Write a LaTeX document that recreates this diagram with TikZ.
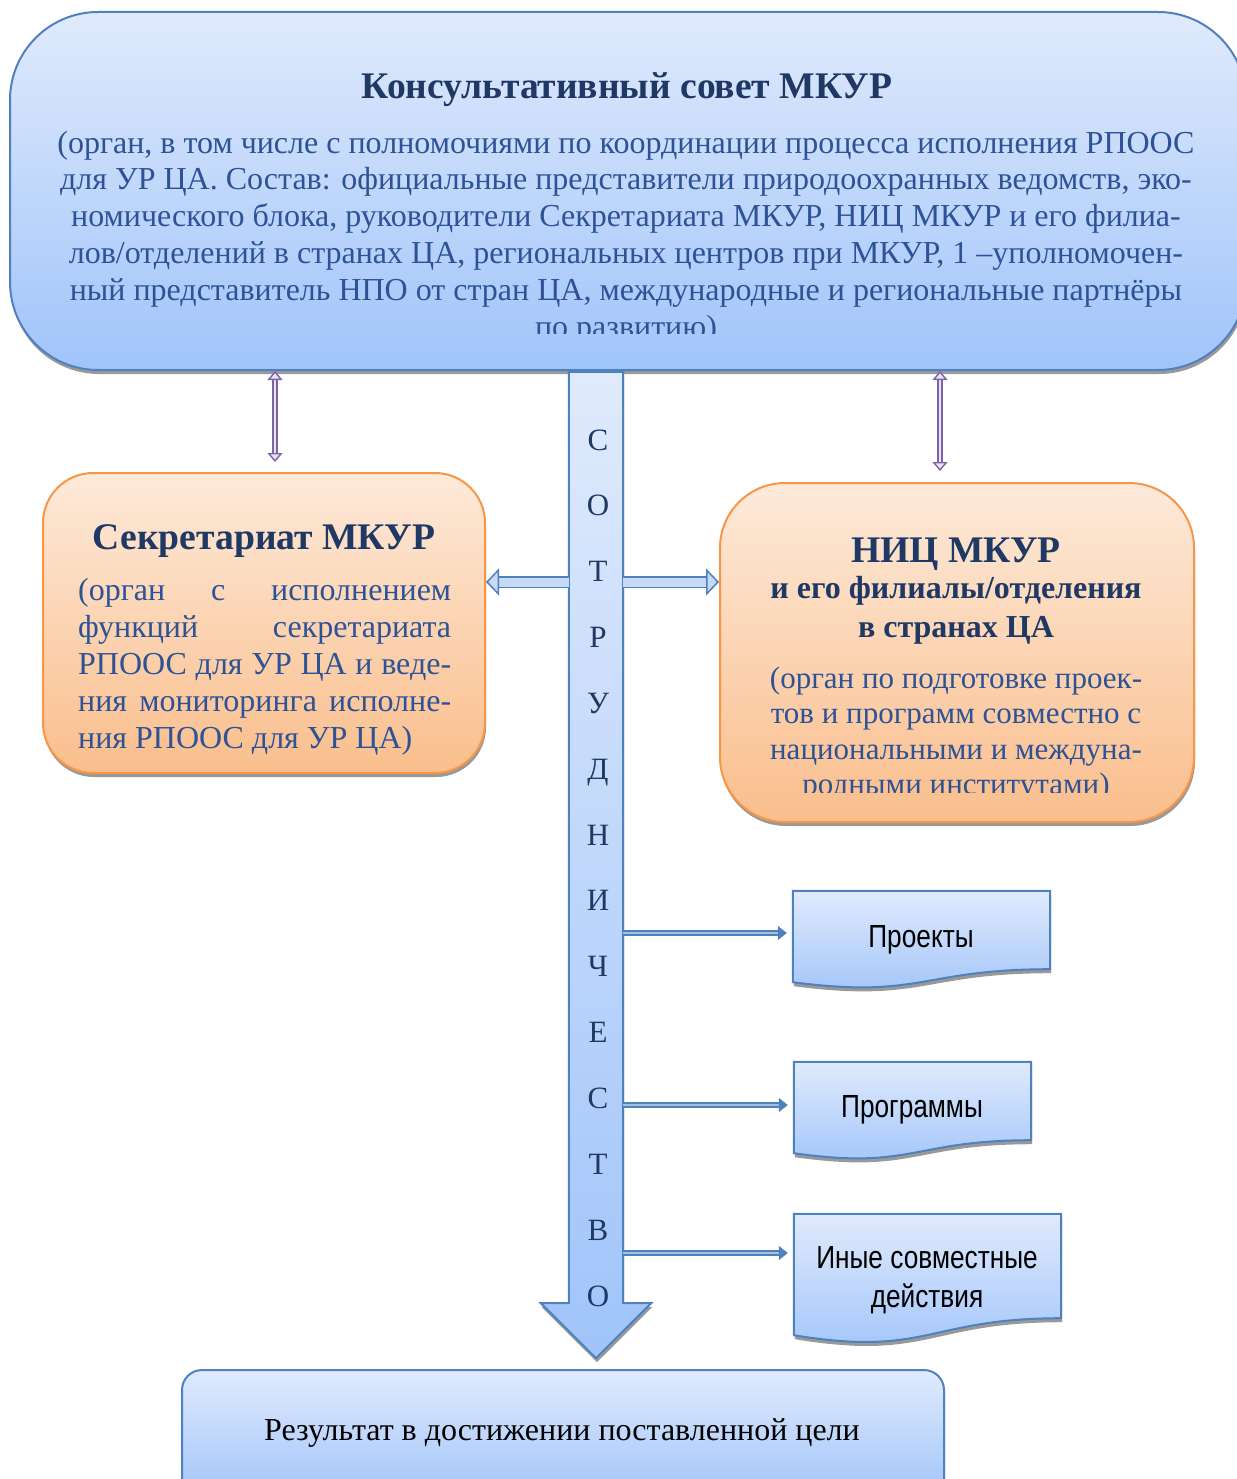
\documentclass[tikz,border=0pt]{standalone}
\usepackage{fontspec}
\setmainfont{Liberation Serif}
\setsansfont{Liberation Sans}[FakeStretch=0.82]
\usetikzlibrary{arrows.meta,shadows}

\definecolor{blueline}{RGB}{79,129,189}
\definecolor{bluetop}{RGB}{224,234,252}
\definecolor{bluebot}{RGB}{160,196,250}
\definecolor{orline}{RGB}{247,150,70}
\definecolor{ortop}{RGB}{253,234,218}
\definecolor{orbot}{RGB}{250,190,140}
\definecolor{navy}{RGB}{31,56,100}
\definecolor{bodyblue}{RGB}{45,82,150}
\definecolor{purp}{RGB}{128,100,162}
\definecolor{purplight}{RGB}{232,226,242}
\definecolor{arrowfill}{RGB}{198,217,245}

\tikzset{
  boxshadow/.style={drop shadow={shadow xshift=1pt,shadow yshift=-4pt,opacity=.4,fill=black}},
  bluebox/.style={draw=blueline,line width=2pt,top color=bluetop,bottom color=bluebot,boxshadow,inner sep=0pt},
  orangebox/.style={draw=orline,line width=2pt,top color=ortop,bottom color=orbot,boxshadow,inner sep=0pt},
  headtext/.style={text=navy,font=\bfseries\fontsize{37.6}{40}\selectfont,inner sep=0pt,anchor=base},
  bodytext/.style={text=bodyblue,font=\fontsize{32}{36.8}\selectfont,inner sep=0pt,align=center,anchor=base},
  coopletter/.style={text=navy,font=\fontsize{31}{31}\selectfont,inner sep=0pt,anchor=base},
  doctext/.style={font=\sffamily\fontsize{32}{39}\selectfont,inner sep=0pt,align=center,anchor=base},
  purparrow/.style={draw=purp,double=purplight,line width=1.4pt,double distance=2.8pt,
    >={Triangle[length=9pt,width=15pt,line width=1.4pt,fill=purplight]},<->},
  blockarrow/.style={draw=blueline,double=arrowfill,line width=1.5pt,double distance=9pt,
    >={Triangle[length=13pt,width=27pt,line width=1.5pt,fill=arrowfill]},->},
  docarrow/.style={draw=blueline,double=arrowfill!70!blueline,line width=2.2pt,double distance=2.4pt,
    >={Triangle[length=9pt,width=14pt,line width=1pt,fill=blueline]},->,shorten >=6pt},
}

\begin{document}
\begin{tikzpicture}[x=1pt,y=-1pt]
\useasboundingbox (0,0) rectangle (1236,1479);

% council
\node[bluebox,rounded corners=88pt,minimum width=1236,minimum height=358] (council) at (628,191) {};
\node[headtext] (councilTitle) at (627,99) {Консультативный совет МКУР};
\begin{scope}
\clip (0,0) rectangle (1236,333);
\node[bodytext] (councilBody) at (626,337) {(орган, в том числе с полномочиями по координации процесса исполнения РПООС\\
для УР ЦА. Состав: официальные представители природоохранных ведомств, эко-\\
номического блока, руководители Секретариата МКУР, НИЦ МКУР и его филиа-\\
лов/отделений в странах ЦА, региональных центров при МКУР, 1 –уполномочен-\\
ный представитель НПО от стран ЦА, международные и региональные партнёры\\
по развитию)};
\end{scope}

% cooperation arrow
\node[inner sep=0pt,minimum width=54,minimum height=931] (coop) at (596,837.5) {};
\draw[bluebox] (coop.north west) -- (coop.north east) -- (coop.south east) -- ++(28,0)
  -- ([yshift=-55pt]coop.south) -- ([xshift=-28pt]coop.south west) -- (coop.south west) -- cycle;
\foreach \ch [count=\i] in {С,О,Т,Р,У,Д,Н,И,Ч,Е,С,Т,В,О}
  \node[coopletter] (l\i) at (598,{450+65.85*(\i-1)}) {\ch};

% secretariat
\node[orangebox,rounded corners=50pt,minimum width=442,minimum height=300] (secr) at (264,623) {};
\node[headtext] (secrTitle) at (264,549) {Секретариат МКУР};
\node[bodytext,align=left,anchor=base west] (secrBody) at (78,748) {\makebox[373pt][s]{(орган с исполнением}\\
\makebox[373pt][s]{функций секретариата}\\
\makebox[373pt][s]{РПООС для УР ЦА и веде-}\\
\makebox[373pt][s]{ния мониторинга исполне-}\\
ния РПООС для УР ЦА)};

% nic
\node[orangebox,rounded corners=65pt,minimum width=474,minimum height=339] (nic) at (957,652.5) {};
\node[headtext] (nicTitle) at (956,562) {НИЦ МКУР};
\node[headtext,font=\bfseries\fontsize{32}{39}\selectfont,align=center] (nicSub) at (956,637) {и его филиалы/отделения\\в странах ЦА};
\begin{scope}
\clip (700,480) rectangle (1200,792);
\node[bodytext,font=\fontsize{31}{35.5}\selectfont] (nicBody) at (956,794.5) {(орган по подготовке проек-\\
тов и программ совместно с\\
национальными и междуна-\\
родными институтами)};
\end{scope}

% links to council
\coordinate (sa) at ([xshift=11pt]secr.north);
\coordinate (na) at ([xshift=-17pt]nic.north);
\draw[purparrow] (sa |- council.south) -- ([yshift=10pt]sa);
\draw[purparrow] (na |- council.south) -- ([yshift=11pt]na);

% block arrows
\coordinate (lvl) at (0,582);
\draw[blockarrow] (coop.west |- lvl) -- (secr.east |- lvl);
\draw[blockarrow] (coop.east |- lvl) -- (nic.west |- lvl);

% documents
\node[inner sep=0pt,minimum width=257,minimum height=78] (proj) at (921.5,930) {};
\node[inner sep=0pt,minimum width=237,minimum height=78] (prog) at (912.5,1101) {};
\node[inner sep=0pt,minimum width=267,minimum height=104] (other) at (927.5,1266) {};
\foreach \n/\d in {proj/13,prog/13,other/17}
  \draw[bluebox] (\n.south east) -- (\n.north east) -- (\n.north west) -- ([yshift=-\d]\n.south west)
    .. controls ([yshift=-2.3*\d]\n.south) and (\n.south) .. (\n.south east) -- cycle;
\node[doctext] (projT) at (921,947) {Проекты};
\node[doctext] (progT) at (912,1117) {Программы};
\node[doctext] (otherT) at (927,1307) {Иные совместные\\действия};

\draw[docarrow] (coop.east |- 0,933) -- (proj.west |- 0,933);
\draw[docarrow] (coop.east |- 0,1105) -- (prog.west |- 0,1105);
\draw[docarrow] (coop.east |- 0,1253) -- (other.west |- 0,1253);

% result
\node[bluebox,rounded corners=20pt,minimum width=762,minimum height=130] (result) at (563,1435) {};
\node[bodytext,text=black] (resultT) at (562,1440) {Результат в достижении поставленной цели};
\end{tikzpicture}
\end{document}
